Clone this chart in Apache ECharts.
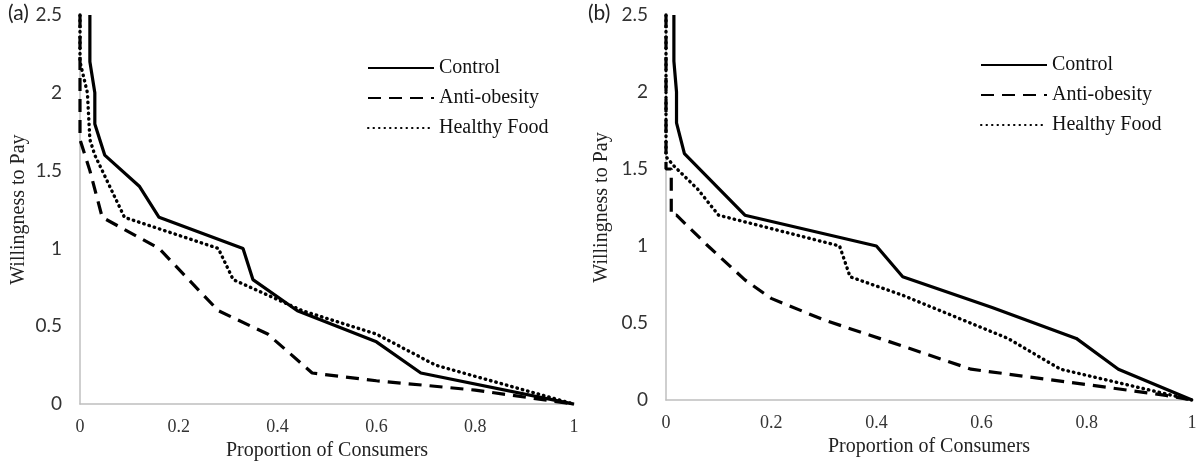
<!DOCTYPE html>
<html>
<head>
<meta charset="utf-8">
<script src="https://cdn.jsdelivr.net/npm/echarts@6/dist/echarts.min.js"></script>
<style>
  html, body { margin: 0; padding: 0; background: #fff; }
  #chart { width: 1201px; height: 466px; }
</style>
</head>
<body>
<div id="chart"></div>
<script>
// tick labels
const xTicks = [0, 0.2, 0.4, 0.6, 0.8, 1];
const yTicks = [0, 0.5, 1, 1.5, 2, 2.5];
const seriesNames = ["Control", "Anti-obesity", "Healthy Food"];

// panel (a): [proportion, willingness to pay]
const controlA = [[0.02, 2.5], [0.02, 2.2], [0.03, 2.0], [0.03, 1.8], [0.05, 1.6], [0.12, 1.4], [0.16, 1.2], [0.33, 1.0], [0.35, 0.8], [0.44, 0.6], [0.6, 0.4], [0.69, 0.2], [1, 0]];
const antiA = [[0, 2.5], [0, 1.7], [0.02, 1.5], [0.045, 1.2], [0.16, 1.0], [0.22, 0.8], [0.28, 0.6], [0.38, 0.45], [0.47, 0.2], [0.6, 0.15], [0.8, 0.09], [1, 0]];
const healthyA = [[0, 2.5], [0, 2.2], [0.015, 2.0], [0.02, 1.7], [0.03, 1.6], [0.06, 1.4], [0.09, 1.2], [0.28, 1.0], [0.31, 0.8], [0.45, 0.6], [0.6, 0.45], [0.72, 0.25], [1, 0]];

// panel (b)
const controlB = [[0.015, 2.5], [0.015, 2.2], [0.02, 2.0], [0.02, 1.8], [0.035, 1.6], [0.15, 1.2], [0.4, 1.0], [0.45, 0.8], [0.62, 0.6], [0.78, 0.4], [0.86, 0.2], [1, 0]];
const antiB = [[0, 2.5], [0, 1.5], [0.01, 1.5], [0.01, 1.2], [0.02, 1.2], [0.08, 1.0], [0.15, 0.78], [0.2, 0.66], [0.3, 0.52], [0.45, 0.35], [0.58, 0.2], [0.8, 0.1], [0.95, 0.03], [1, 0]];
const healthyB = [[0, 2.5], [0, 1.58], [0.015, 1.52], [0.06, 1.37], [0.1, 1.2], [0.33, 1.0], [0.35, 0.8], [0.45, 0.68], [0.65, 0.4], [0.75, 0.2], [0.9, 0.08], [1, 0]];

const serif = "Liberation Serif";
const sans = "Lato";

const lineStyles = [
  { color: "#000", width: 3.2, type: "solid" },
  { color: "#000", width: 3.2, type: [13, 8] },
  { color: "#000", width: 3.4, type: [0.5, 5], cap: "round" }
];

function makeSeries(data, idx, axisIdx) {
  return {
    name: seriesNames[idx],
    type: "line",
    xAxisIndex: axisIdx,
    yAxisIndex: axisIdx,
    data: data,
    showSymbol: false,
    symbol: "none",
    clip: false,
    lineStyle: lineStyles[idx],
    itemStyle: { color: "#000" },
    z: 3 - idx
  };
}

function xAxis(gridIndex, gap) {
  return {
    type: "value", gridIndex: gridIndex, min: 0, max: 1, interval: 0.2,
    axisLine: { lineStyle: { color: "#bfbfbf", width: 1.5 } },
    axisTick: { show: false },
    splitLine: { show: false },
    axisLabel: { fontFamily: serif, fontSize: 18, color: "#333", margin: 14,
      formatter: v => xTicks.includes(+v.toFixed(1)) ? String(+v.toFixed(1)) : "" },
    name: "Proportion of Consumers", nameLocation: "middle", nameGap: gap,
    nameTextStyle: { fontFamily: serif, fontSize: 20, color: "#222" }
  };
}

function yAxis(gridIndex, gap) {
  return {
    type: "value", gridIndex: gridIndex, min: 0, max: 2.5, interval: 0.5,
    axisLine: { show: true, lineStyle: { color: "#bfbfbf", width: 1.5 } },
    axisTick: { show: false },
    splitLine: { show: false },
    axisLabel: { fontFamily: sans, fontSize: 19, color: "#333", margin: 18,
      formatter: v => yTicks.includes(+v.toFixed(1)) ? String(+v.toFixed(1)) : "" },
    name: "Willingness to Pay", nameLocation: "middle", nameRotate: 90, nameGap: gap,
    nameTextStyle: { fontFamily: serif, fontSize: 20, color: "#222" }
  };
}

function legend(id, left, top) {
  return {
    id: id, orient: "vertical", left: left, top: top,
    itemWidth: 66, itemHeight: 20, itemGap: 10,
    data: seriesNames,
    itemStyle: { opacity: 0 },
    textStyle: { fontFamily: serif, fontSize: 20, lineHeight: 20, color: "#111" }
  };
}

const chart = echarts.init(document.getElementById("chart"));
chart.setOption({
  animation: false,
  backgroundColor: "#fff",
  title: [
    { text: "(a)", left: 8, top: 3, padding: 0, textStyle: { fontFamily: sans, fontSize: 21, fontWeight: "normal", color: "#222" } },
    { text: "(b)", left: 588, top: 3, padding: 0, textStyle: { fontFamily: sans, fontSize: 21, fontWeight: "normal", color: "#222" } }
  ],
  legend: [legend("la", 362, 53), legend("lb", 975, 50)],
  grid: [
    { left: 80, right: 627, top: 15, bottom: 60 },
    { left: 666, right: 9, top: 15, bottom: 66 }
  ],
  xAxis: [xAxis(0, 36), xAxis(1, 33)],
  yAxis: [yAxis(0, 51), yAxis(1, 54)],
  series: [
    makeSeries(controlA, 0, 0),
    makeSeries(antiA, 1, 0),
    makeSeries(healthyA, 2, 0),
    makeSeries(controlB, 0, 1),
    makeSeries(antiB, 1, 1),
    makeSeries(healthyB, 2, 1)
  ]
});
</script>
</body>
</html>
